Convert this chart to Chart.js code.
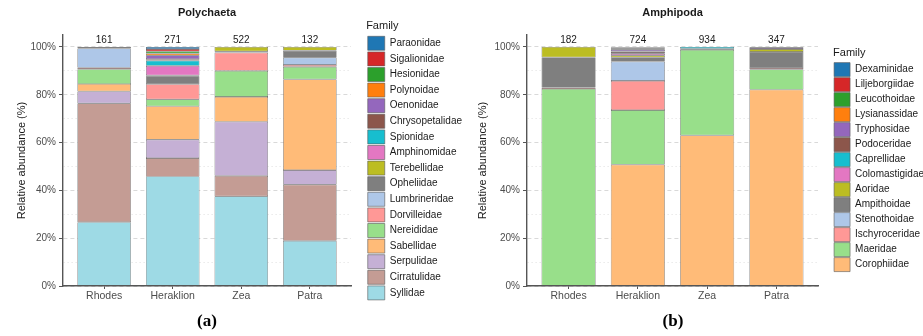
<!DOCTYPE html>
<html>
<head>
<meta charset="utf-8">
<script src="https://cdn.jsdelivr.net/npm/chart.js@4.4.1/dist/chart.umd.min.js"></script>
<style>
  html, body { margin: 0; padding: 0; background: #fff; width: 923px; height: 336px; overflow: hidden; }
  .panel { position: absolute; top: 0; }
  #panelA { left: 0; }
  #panelB { left: 470px; }
  .tag { position: absolute; top: 311px; font-family: "Liberation Serif", serif; font-weight: bold; font-size: 17px; color: #000; transform: translateX(-50%); }
</style>
</head>
<body>
<div class="panel" id="panelA"><canvas id="chartA" width="472" height="320"></canvas></div>
<div class="panel" id="panelB"><canvas id="chartB" width="464" height="318"></canvas></div>
<div class="tag" style="left:207px">(a)</div>
<div class="tag" style="left:673px">(b)</div>
<script>
// Sampling sites (x categories)
const sites = ['Rhodes', 'Heraklion', 'Zea', 'Patra'];

// Number of individuals per site, printed above each bar
const polyCounts = [161, 271, 522, 132];
const amphiCounts = [182, 724, 934, 347];

// y-axis tick values (%)
const yTicks = [0, 20, 40, 60, 80, 100];

// Polychaeta families, stacked from the bottom up
const polyFamilies = ['Syllidae', 'Cirratulidae', 'Serpulidae', 'Sabellidae', 'Nereididae',
  'Dorvilleidae', 'Lumbrineridae', 'Opheliidae', 'Terebellidae', 'Amphinomidae', 'Spionidae',
  'Chrysopetalidae', 'Oenonidae', 'Polynoidae', 'Hesionidae', 'Sigalionidae', 'Paraonidae'];

// Relative abundance (%) per site, in polyFamilies order
const polyRhodes    = [26.7, 49.7, 5.0, 3.1, 6.2, 0.6, 8.1, 0.6, 0, 0, 0, 0, 0, 0, 0, 0, 0];
const polyHeraklion = [45.8, 7.7, 7.7, 14.0, 2.9, 6.3, 0, 3.3, 0.4, 4.0, 2.2, 0.6, 1.6, 0.8, 0.9, 0.9, 0.9];
const polyZea       = [37.5, 8.6, 22.6, 10.4, 10.9, 7.6, 0.2, 0.4, 1.8, 0, 0, 0, 0, 0, 0, 0, 0];
const polyPatra     = [18.9, 23.5, 6.1, 37.9, 5.3, 0.8, 3.0, 3.0, 1.5, 0, 0, 0, 0, 0, 0, 0, 0];

// Amphipoda families, stacked from the bottom up
const amphiFamilies = ['Corophiidae', 'Maeridae', 'Ischyroceridae', 'Stenothoidae', 'Ampithoidae',
  'Aoridae', 'Colomastigidae', 'Caprellidae', 'Podoceridae', 'Tryphosidae', 'Lysianassidae',
  'Leucothoidae', 'Liljeborgiidae', 'Dexaminidae'];

// Relative abundance (%) per site, in amphiFamilies order
const amphiRhodes    = [0, 82.4, 0.6, 0, 12.6, 4.4, 0, 0, 0, 0, 0, 0, 0, 0];
const amphiHeraklion = [50.8, 22.8, 12.2, 8.1, 1.8, 0.8, 0.7, 0.3, 0.6, 0.7, 0.3, 0.4, 0.3, 0.2];
const amphiZea       = [63.0, 35.8, 0, 0, 0.4, 0, 0, 0.8, 0, 0, 0, 0, 0, 0];
const amphiPatra     = [82.1, 8.5, 0.6, 0, 6.7, 1.2, 0, 0, 0, 0.6, 0, 0, 0, 0.3];

// Fill colours, bottom-up
const polyColours = ['#9edae5', '#c49c94', '#c5b0d5', '#ffbb78', '#98df8a', '#ff9896', '#aec7e8',
  '#7f7f7f', '#bcbd22', '#e377c2', '#17becf', '#8c564b', '#9467bd', '#ff7f0e', '#2ca02c', '#d62728', '#1f77b4'];
const amphiColours = ['#ffbb78', '#98df8a', '#ff9896', '#aec7e8', '#7f7f7f', '#bcbd22', '#e377c2',
  '#17becf', '#8c564b', '#9467bd', '#ff7f0e', '#2ca02c', '#d62728', '#1f77b4'];

const FONT = '"Liberation Sans", Arial, sans-serif';
const AXIS = '#555555';

function buildDatasets(families, rows, colours) {
  return families.map((name, f) => ({
    label: name,
    data: rows.map((row, s) => ({ x: s, y: row[f] })),
    backgroundColor: colours[f],
    borderColor: '#5a5a5a',
    borderWidth: 0.6,
    borderSkipped: false,
    categoryPercentage: 1,
    barPercentage: 0.78
  }));
}

// Sample sizes written just above the 100 % line
const countLabels = {
  id: 'countLabels',
  afterDatasetsDraw(chart, args, opts) {
    const { ctx, scales: { x, y } } = chart;
    ctx.save();
    ctx.font = '10px ' + FONT;
    ctx.fillStyle = '#1a1a1a';
    ctx.textAlign = 'center';
    ctx.textBaseline = 'middle';
    opts.values.forEach((n, i) => {
      ctx.fillText(String(n), x.getPixelForValue(i), y.getPixelForValue(100) - 7);
    });
    ctx.restore();
  }
};

function makeChart(id, cfg) {
  return new Chart(document.getElementById(id), {
    type: 'bar',
    data: { datasets: buildDatasets(cfg.families, cfg.rows, cfg.colours) },
    plugins: [countLabels],
    options: {
      responsive: false,
      animation: false,
      events: [],
      layout: { padding: 0 },
      plugins: {
        countLabels: { values: cfg.counts },
        tooltip: { enabled: false },
        title: {
          display: true,
          text: cfg.title,
          fullSize: false,
          color: '#1a1a1a',
          font: { family: FONT, size: 11, weight: 'bold' },
          padding: { top: 6.4, bottom: 15.4 }
        },
        legend: {
          position: 'right',
          align: 'center',
          reverse: true,
          maxWidth: 160,
          title: {
            display: true,
            text: 'Family',
            position: 'start',
            color: '#1a1a1a',
            font: { family: FONT, size: 11 },
            padding: { top: 2, bottom: 1 }
          },
          labels: {
            boxWidth: cfg.boxWidth,
            boxHeight: 14,
            padding: cfg.legendPad,
            color: '#1a1a1a',
            font: { family: FONT, size: 10 }
          }
        }
      },
      scales: {
        x: {
          type: 'linear',
          min: -0.6,
          max: 3.6,
          offset: false,
          stacked: true,
          afterBuildTicks: (s) => { s.ticks = sites.map((_, i) => ({ value: i })); },
          afterFit: (s) => { s.height = s.chart.height - 286; },
          ticks: {
            autoSkip: false,
            maxRotation: 0,
            padding: 1,
            color: '#4d4d4d',
            font: { family: FONT, size: 10.5 },
            callback: (v) => sites[v]
          },
          grid: { display: true, drawOnChartArea: false, drawTicks: true, tickLength: 3, tickColor: AXIS, tickWidth: 1, offset: false },
          border: { display: true, color: AXIS, width: 1.4 }
        },
        y: {
          type: 'linear',
          min: 0,
          max: 105,
          stacked: true,
          afterBuildTicks: (s) => { s.ticks = s.ticks.filter((t) => t.value <= 100); },
          afterFit: (s) => { s.width = cfg.axisWidth; },
          ticks: {
            stepSize: 10,
            padding: 3,
            color: '#4d4d4d',
            font: { family: FONT, size: 10 },
            callback: (v) => (yTicks.includes(v) ? v + '%' : '')
          },
          title: {
            display: true,
            text: 'Relative abundance (%)',
            color: '#1a1a1a',
            font: { family: FONT, size: 11 },
            padding: { top: cfg.titlePad, bottom: 0 }
          },
          grid: {
            drawTicks: true,
            tickLength: 4,
            tickWidth: 1,
            tickBorderDash: [],
            lineWidth: 0.8,
            color: (c) => (c.tick && yTicks.includes(c.tick.value) ? '#cfcfcf' : '#e3e3e3'),
            tickColor: (c) => (c.tick && yTicks.includes(c.tick.value) ? AXIS : 'rgba(0,0,0,0)')
          },
          border: {
            display: true,
            color: AXIS,
            width: 1.4,
            dash: (c) => (c.tick && yTicks.includes(c.tick.value) ? [4, 3] : [1.5, 2.5])
          }
        },
        // spacer between the plotting panel and the legend
        gap: {
          type: 'linear',
          position: 'right',
          min: 0,
          max: 1,
          ticks: { display: false },
          grid: { display: false, drawTicks: false },
          border: { display: false },
          afterFit: (s) => {
            const lg = s.chart.legend;
            s.width = lg ? Math.max(0, s.chart.width - lg.width - cfg.panelRight) : 15;
          }
        }
      }
    }
  });
}

makeChart('chartA', {
  title: 'Polychaeta',
  families: polyFamilies,
  rows: [polyRhodes, polyHeraklion, polyZea, polyPatra],
  colours: polyColours,
  counts: polyCounts,
  boxWidth: 17,
  legendPad: 1.6,
  axisWidth: 63,
  titlePad: 15.4,
  panelRight: 351
});

makeChart('chartB', {
  title: 'Amphipoda',
  families: amphiFamilies,
  rows: [amphiRhodes, amphiHeraklion, amphiZea, amphiPatra],
  colours: amphiColours,
  counts: amphiCounts,
  boxWidth: 16,
  legendPad: 1.0,
  axisWidth: 57,
  titlePad: 6.4,
  panelRight: 348
});
</script>
</body>
</html>
